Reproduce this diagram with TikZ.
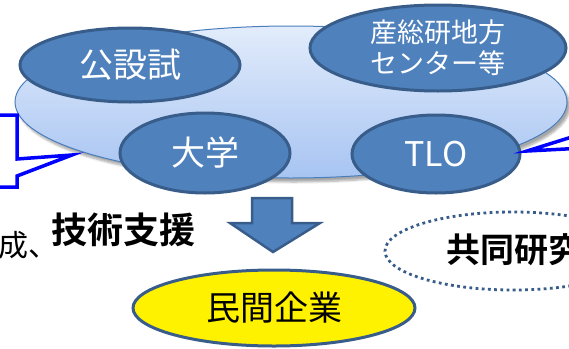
\documentclass[tikz,border=0pt]{standalone}
\usepackage{fontspec}
\setmainfont{Noto Sans CJK JP}
\newfontfamily\cjkbold{Noto Sans CJK JP Bold}
\usetikzlibrary{shapes.geometric,shadows.blur}
\definecolor{medblue}{HTML}{4F81BD}
\definecolor{darkblue}{HTML}{385D8A}
\definecolor{rimblue}{HTML}{4A7EBB}
\definecolor{toplight}{HTML}{E2ECFB}
\definecolor{botlight}{HTML}{A7C4F2}
\definecolor{calloutblue}{HTML}{0000FF}
\begin{document}
\begin{tikzpicture}[x=1pt,y=-1pt,
  orgell/.style={ellipse, draw=darkblue, line width=3pt, fill=medblue, text=white,
    inner sep=0pt, font=\fontsize{34}{36}\selectfont},
  callout/.style={draw=calloutblue, line width=3.5pt, line join=miter},
  blockarrow/.style={draw=darkblue, fill=medblue, line width=2.5pt, line join=miter},
  boldtxt/.style={font=\cjkbold\fontsize{34}{36}\selectfont, text=black, inner sep=0pt}
]
\useasboundingbox (0,0) rectangle (569,348);
\clip (0,0) rectangle (569,348);

% big group ellipse
\node[ellipse, draw=rimblue, line width=1pt, top color=toplight, bottom color=botlight,
  minimum width=552pt, minimum height=152pt, inner sep=0pt,
  blur shadow={shadow xshift=3pt, shadow yshift=-4pt, shadow blur steps=6, shadow opacity=35}]
  (group) at (291,102) {};

% member ellipses
\node[orgell, minimum width=220pt, minimum height=74pt] (koseshi) at (130,65) {公設試};
\node[orgell, minimum width=256pt, minimum height=86pt, align=center,
  font=\fontsize{27}{31}\selectfont] (sansoken) at (438,48) {産総研地方\\センター等};
\node[orgell, minimum width=170pt, minimum height=80pt] (daigaku) at (205,153) {大学};
\node[orgell, minimum width=168pt, minimum height=78pt] (tlo) at (436,154) {TLO};

% left callout (partly outside)
\coordinate (ltip) at (72,155);
\draw[callout] (-5,115) -- (17,115) -- (17,159) -- (ltip) -- (17,176) -- (17,187) -- (-5,187);

% right callout pointer
\coordinate (rtip) at (527,151);
\draw[callout] (575,136) -- (rtip) -- (575,148.5);

% down block arrow
\draw[blockarrow] (252,198) -- (292,198) -- (292,223) -- (320,223) -- (273,252)
  -- (230,223) -- (252,223) -- cycle;

% texts
\node[anchor=west, inner sep=0pt, font=\fontsize{30}{32}\selectfont] (sei) at (-2,245) {成、};
\node[boldtxt, anchor=west, font=\cjkbold\fontsize{36}{38}\selectfont] (gijutsu) at (51,230) {技術支援};

% joint research dotted ellipse
\node[ellipse, draw=darkblue, line width=2.8pt, dash pattern=on 2.8pt off 3.4pt,
  minimum width=256pt, minimum height=78pt, inner sep=0pt] (kyodoell) at (513,251) {};
\node[boldtxt, anchor=west] (kyodo) at (446,250) {共同研究};

% private company
\node[ellipse, draw=darkblue, line width=3pt, fill=yellow, text=black, inner sep=0pt,
  minimum width=282pt, minimum height=76pt, font=\fontsize{34}{36}\selectfont]
  (minkan) at (274,308) {民間企業};
\end{tikzpicture}
\end{document}
